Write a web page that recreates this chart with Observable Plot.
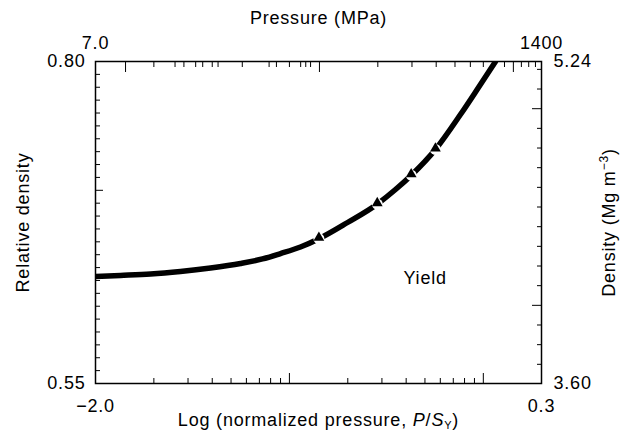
<!DOCTYPE html>
<html><head><meta charset="utf-8">
<script src="https://cdn.jsdelivr.net/npm/d3@7"></script>
<script src="https://cdn.jsdelivr.net/npm/@observablehq/plot@0.6"></script>
<style>body{margin:0;background:#fff;} #chart svg{display:block;}</style>
</head><body><div id="chart"></div>
<script>
// ---- data ----
const logPressure = [-2.0, -1.871, -1.716, -1.562, -1.407, -1.252, -1.139, -1.046, -0.943, -0.850, -0.700, -0.546, -0.453, -0.370, -0.247, -0.118, -0.025, 0.063];
const relativeDensity = [0.6331, 0.6339, 0.6350, 0.6370, 0.6397, 0.6432, 0.6467, 0.6509, 0.6560, 0.6622, 0.6750, 0.6894, 0.7006, 0.7119, 0.7317, 0.7588, 0.7798, 0.8000];
const triangleLogPressure = [-0.848, -0.547, -0.372, -0.247];
const triangleRelDensity = [0.6625, 0.6893, 0.7117, 0.7317];
const annotationText = ["Yield"];
const annotationLogP = [-0.30];
const annotationRelDensity = [0.632];

const xDomain = [-2.0, 0.3];
const yDomain = [0.55, 0.80];
const bottomTickText = ["\u22122.0", "0.3"];
const topTickText = ["7.0", "1400"];
const leftTickText = ["0.55", "0.80"];
const rightTickText = ["3.60", "5.24"];

const yieldStrengthMPa = 700;   // P / S_Y = 1 at 700 MPa
const fullDensity = 6.55;       // Mg m^-3 at relative density 1
const normPressureMinor = [0.02, 0.03, 0.04, 0.05, 0.06, 0.07, 0.08, 0.09, 0.2, 0.3, 0.4, 0.5, 0.6, 0.7, 0.8, 0.9];
const normPressureMajor = [0.1, 1];
const pressureMinorMPa = [14, 18, 20, 23, 25, 28, 30, 40, 55, 60, 70, 80, 85, 90, 200, 300, 400, 500, 600, 700, 800, 900, 1100, 1200, 1300];
const pressureMajorMPa = [10, 100, 1000];
const relDensityMinor = [0.56, 0.57, 0.58, 0.59, 0.60, 0.61, 0.62, 0.63, 0.64, 0.65, 0.66, 0.67, 0.68, 0.69, 0.71, 0.72, 0.73, 0.74, 0.75, 0.76, 0.77, 0.78, 0.79];
const relDensityMajor = [0.70];
const densityMinor = [3.7, 3.8, 3.9, 4.1, 4.2, 4.3, 4.4, 4.5, 4.6, 4.7, 4.8, 4.9, 5.1, 5.2];
const densityMajor = [4.0, 5.0];

// ---- tables built from the arrays ----
const curve = logPressure.map((x, i) => ({x, y: relativeDensity[i]}));
const triangles = triangleLogPressure.map((x, i) => ({x, y: triangleRelDensity[i]}));
const notes = annotationText.map((t, i) => ({t, x: annotationLogP[i], y: annotationRelDensity[i]}));
const xLabelAt = new Map(xDomain.map((v, i) => [v, i]));
const yLabelAt = new Map(yDomain.map((v, i) => [v, i]));
const fromPressure = p => Math.log10(p / yieldStrengthMPa);
const fromDensity = d => d / fullDensity;
const blank = () => "";

const chart = Plot.plot({
  width: 629, height: 436,
  marginLeft: 95, marginRight: 88, marginTop: 61, marginBottom: 53,
  style: {fontFamily: "'Liberation Sans', Arial, sans-serif", fontSize: "18px", letterSpacing: "0.8px", color: "#000", background: "#fff", overflow: "visible"},
  x: {domain: xDomain},
  y: {domain: yDomain},
  marks: [
    // bottom axis (log normalized pressure)
    Plot.axisX({anchor: "bottom", ticks: normPressureMinor.map(Math.log10), tickSize: -5, tickFormat: blank, label: null}),
    Plot.axisX({anchor: "bottom", ticks: normPressureMajor.map(Math.log10), tickSize: -10, tickFormat: blank, label: null}),
    Plot.axisX({anchor: "bottom", ticks: xDomain, tickSize: 0, tickPadding: 16, tickFormat: d => bottomTickText[xLabelAt.get(d)],
      label: "Log (normalized pressure, P/SY)", labelAnchor: "center", labelOffset: 42, labelArrow: "none"}),
    // top axis (pressure, MPa)
    Plot.axisX({anchor: "top", ticks: pressureMinorMPa.map(fromPressure), tickSize: -5, tickFormat: blank, label: null}),
    Plot.axisX({anchor: "top", ticks: pressureMajorMPa.map(fromPressure), tickSize: -10, tickFormat: blank, label: null}),
    Plot.axisX({anchor: "top", ticks: xDomain, tickSize: 0, tickPadding: 13, tickFormat: d => topTickText[xLabelAt.get(d)],
      label: "Pressure (MPa)", labelAnchor: "center", labelOffset: 50, labelArrow: "none"}),
    // left axis (relative density)
    Plot.axisY({anchor: "left", ticks: relDensityMinor, tickSize: -5, tickFormat: blank, label: null}),
    Plot.axisY({anchor: "left", ticks: relDensityMajor, tickSize: -8, tickFormat: blank, label: null}),
    Plot.axisY({anchor: "left", ticks: yDomain, tickSize: 0, tickPadding: 10, tickFormat: d => leftTickText[yLabelAt.get(d)],
      label: "Relative density", labelAnchor: "center", labelOffset: 79, labelArrow: "none"}),
    // right axis (density)
    Plot.axisY({anchor: "right", ticks: densityMinor.map(fromDensity), tickSize: -5, tickFormat: blank, label: null}),
    Plot.axisY({anchor: "right", ticks: densityMajor.map(fromDensity), tickSize: -10, tickFormat: blank, label: null}),
    Plot.axisY({anchor: "right", ticks: yDomain, tickSize: 0, tickPadding: 12, tickFormat: d => rightTickText[yLabelAt.get(d)],
      label: "Density (Mg m-3)", labelAnchor: "center", labelOffset: 73, labelArrow: "none"}),
    Plot.frame({stroke: "#000", strokeWidth: 1.5}),
    Plot.line(curve, {x: "x", y: "y", stroke: "#000", strokeWidth: 5.5, curve: "monotone-x", clip: true}),
    Plot.dot(triangles, {x: "x", y: "y", r: 5.5, fill: "#fff"}),
    Plot.dot(triangles, {x: "x", y: "y", symbol: "triangle", r: 4, fill: "#000", dy: -1}),
    Plot.text(notes, {x: "x", y: "y", text: "t", fontSize: 18})
  ]
});
document.getElementById("chart").appendChild(chart);

// rich text for the two axis titles (italics, subscript, superscript)
for (const el of chart.querySelectorAll("text")) {
  const s = el.textContent;
  if (s === "Log (normalized pressure, P/SY)") {
    el.innerHTML = 'Log (normalized pressure, <tspan font-style="italic">P</tspan>/<tspan font-style="italic">S</tspan><tspan baseline-shift="-3" font-size="11">Y</tspan>)';
  } else if (s === "Density (Mg m-3)") {
    el.innerHTML = 'Density (Mg m<tspan baseline-shift="super" font-size="12">\u22123</tspan>)';
  }
}
</script>
</body></html>
